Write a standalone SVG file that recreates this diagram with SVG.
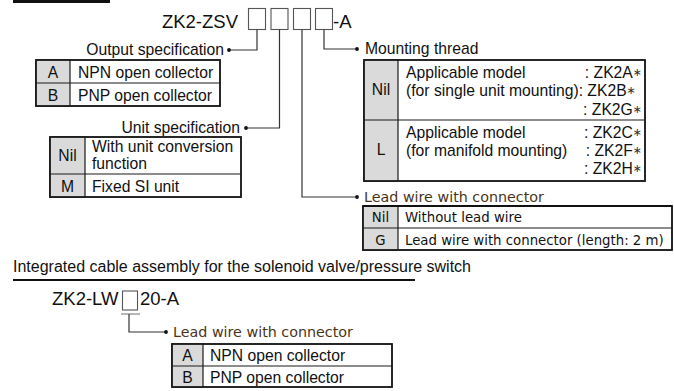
<svg xmlns="http://www.w3.org/2000/svg" width="674" height="391" viewBox="0 0 674 391">
<defs>
<style>
.t{font-family:"Liberation Sans",Arial,sans-serif;font-size:15.7px;fill:#111}
.big{font-family:"Liberation Sans",Arial,sans-serif;font-size:18.5px;fill:#111}
.v{font-family:"DejaVu Sans",Verdana,sans-serif;font-size:13.3px;fill:#111}
.vh{font-family:"DejaVu Sans",Verdana,sans-serif;font-size:14.3px;fill:#4a3418}
.c{text-anchor:middle}
.e{text-anchor:end}
.s{font-family:"DejaVu Sans",sans-serif;font-size:11px;fill:#333}
.tb{fill:#fff;stroke:#1a1a1a;stroke-width:1.5}
.g{fill:#dadada;stroke:#1a1a1a;stroke-width:1.2}
.ln{fill:none;stroke:#1a1a1a;stroke-width:1.2}
.cn{fill:none;stroke:#333;stroke-width:1.2}
.bx{fill:#fff;stroke:#555;stroke-width:1.1}
</style>
</defs>
<rect x="13" y="0" width="97" height="3" fill="#111"/>

<g id="model-code">
<text class="big e" x="238" y="27.5">ZK2-ZSV</text>
<rect class="bx" x="248.5" y="8.5" width="17" height="21"/>
<rect class="bx" x="271" y="8.5" width="17" height="21"/>
<rect class="bx" x="293.5" y="8.5" width="17" height="21"/>
<rect class="bx" x="315.5" y="8.5" width="17" height="21"/>
<text class="big" x="333" y="27.5">-A</text>
</g>

<g id="connectors">
<polyline class="cn" points="257,29.5 257,50 229,50"/>
<circle cx="229" cy="50" r="1.9" fill="#111"/>
<polyline class="cn" points="279.5,29.5 279.5,128 246,128"/>
<circle cx="246" cy="128" r="1.9" fill="#111"/>
<polyline class="cn" points="302,29.5 302,197 357,197"/>
<circle cx="357" cy="197" r="1.9" fill="#111"/>
<polyline class="cn" points="324,29.5 324,49 357,49"/>
<circle cx="357" cy="49" r="1.9" fill="#111"/>
<line x1="121" y1="314" x2="140" y2="314" stroke="#888" stroke-width="1.2"/>
<polyline class="cn" points="129,314 129,332 166,332"/>
<circle cx="166" cy="332" r="1.9" fill="#111"/>
</g>

<g id="output-spec">
<text class="t e" x="224" y="55">Output specification</text>
<rect class="tb" x="36" y="60" width="184" height="46"/>
<rect class="g" x="36" y="60" width="34" height="46"/>
<line class="ln" x1="36" y1="83" x2="220" y2="83"/>
<rect class="tb" x="36" y="60" width="184" height="46" style="fill:none"/>
<text class="t c" x="53" y="78">A</text>
<text class="t" x="78" y="78">NPN open collector</text>
<text class="t c" x="53" y="101">B</text>
<text class="t" x="78" y="101">PNP open collector</text>
</g>

<g id="unit-spec">
<text class="t e" x="240" y="133">Unit specification</text>
<rect class="tb" x="50" y="137" width="191" height="60"/>
<rect class="g" x="50" y="137" width="35" height="60"/>
<line class="ln" x1="50" y1="174" x2="241" y2="174"/>
<rect class="tb" x="50" y="137" width="191" height="60" style="fill:none"/>
<text class="t c" x="67.5" y="161">Nil</text>
<text class="t" x="92" y="152">With unit conversion</text>
<text class="t" x="92" y="169">function</text>
<text class="t c" x="67.5" y="192">M</text>
<text class="t" x="92" y="192">Fixed SI unit</text>
</g>

<g id="mounting-thread">
<text class="t" x="365" y="54">Mounting thread</text>
<rect class="tb" x="364" y="60" width="281" height="121"/>
<rect class="g" x="364" y="60" width="34" height="121"/>
<line class="ln" x1="364" y1="120" x2="645" y2="120"/>
<rect class="tb" x="364" y="60" width="281" height="121" style="fill:none"/>
<text class="t c" x="381" y="95">Nil</text>
<text class="t" x="406" y="78">Applicable model</text>
<text class="t e" x="642" y="78">: ZK2A<tspan class="s" dy="-2.5">∗</tspan></text>
<text class="t" x="406" y="96">(for single unit mounting): ZK2B<tspan class="s" dy="-2.5">∗</tspan></text>
<text class="t e" x="642" y="115">: ZK2G<tspan class="s" dy="-2.5">∗</tspan></text>
<text class="t c" x="381" y="155">L</text>
<text class="t" x="406" y="138">Applicable model</text>
<text class="t e" x="642" y="138">: ZK2C<tspan class="s" dy="-2.5">∗</tspan></text>
<text class="t" x="406" y="156">(for manifold mounting)</text>
<text class="t e" x="642" y="156">: ZK2F<tspan class="s" dy="-2.5">∗</tspan></text>
<text class="t e" x="642" y="174">: ZK2H<tspan class="s" dy="-2.5">∗</tspan></text>
</g>

<g id="lead-wire">
<text class="vh" x="364" y="202">Lead wire with connector</text>
<rect class="tb" x="363" y="206" width="309" height="44"/>
<rect class="g" x="363" y="206" width="35" height="44"/>
<line class="ln" x1="363" y1="228" x2="672" y2="228"/>
<rect class="tb" x="363" y="206" width="309" height="44" style="fill:none"/>
<line x1="363" y1="206" x2="672" y2="206" stroke="#111" stroke-width="2"/>
<text class="v c" x="380.5" y="222">Nil</text>
<text class="v" x="405" y="222">Without lead wire</text>
<text class="v c" x="380.5" y="245">G</text>
<text class="v" x="405" y="245">Lead wire with connector (length: 2 m)</text>
</g>

<g id="cable-assembly">
<text class="t" x="13" y="272" style="font-size:16px">Integrated cable assembly for the solenoid valve/pressure switch</text>
<rect x="13" y="279" width="402" height="2" fill="#111"/>
<text class="big" x="52" y="305">ZK2-LW</text>
<rect class="bx" x="122.5" y="291" width="15" height="19"/>
<text class="big" x="140" y="305">20-A</text>
</g>

<g id="cable-lead-wire">
<text class="vh" x="173" y="337">Lead wire with connector</text>
<rect class="tb" x="172" y="344" width="220" height="43"/>
<rect class="g" x="172" y="344" width="31" height="43"/>
<line class="ln" x1="172" y1="366" x2="392" y2="366"/>
<rect class="tb" x="172" y="344" width="220" height="43" style="fill:none"/>
<text class="t c" x="187.5" y="361">A</text>
<text class="t" x="210" y="361">NPN open collector</text>
<text class="t c" x="187.5" y="383">B</text>
<text class="t" x="210" y="383">PNP open collector</text>
</g>
</svg>
